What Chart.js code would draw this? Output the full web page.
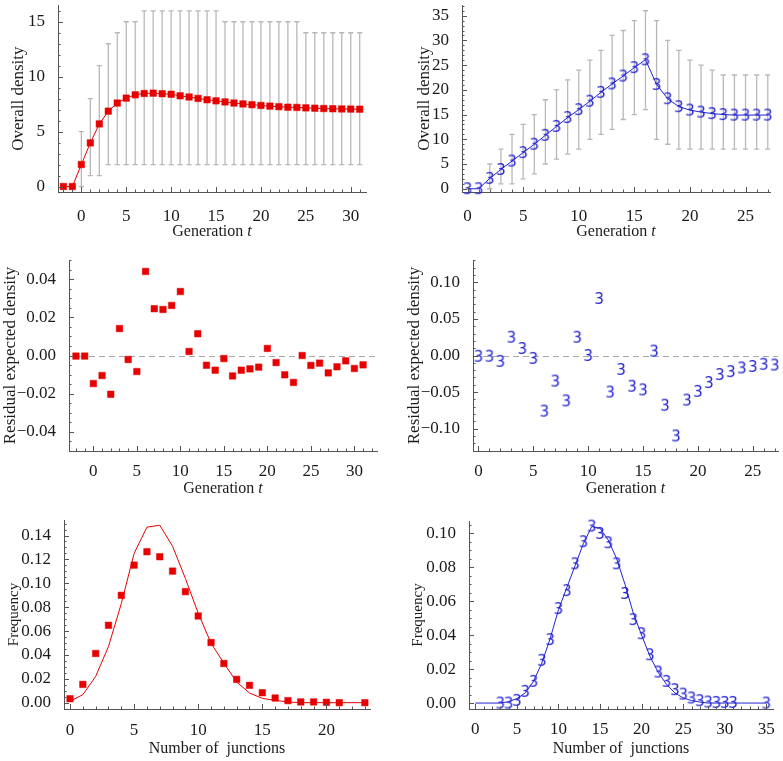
<!DOCTYPE html>
<html>
<head>
<meta charset="utf-8">
<script src="https://cdn.jsdelivr.net/npm/chart.js@4.4.0/dist/chart.umd.min.js"></script>
<style>
  body { margin: 0; background: #fff; width: 783px; height: 761px; position: relative; overflow: hidden; }
  .cell { position: absolute; }
</style>
</head>
<body>
<div class="cell" style="left:0;top:0"><canvas id="c1" width="390" height="250"></canvas></div>
<div class="cell" style="left:390px;top:0"><canvas id="c2" width="393" height="250"></canvas></div>
<div class="cell" style="left:0;top:250px"><canvas id="c3" width="390" height="255"></canvas></div>
<div class="cell" style="left:390px;top:250px"><canvas id="c4" width="393" height="255"></canvas></div>
<div class="cell" style="left:0;top:505px"><canvas id="c5" width="390" height="256"></canvas></div>
<div class="cell" style="left:390px;top:505px"><canvas id="c6" width="393" height="256"></canvas></div>
<script>
// ---- data ----

// top left: red run, generations -2..31
const genRed = [-2,-1,0,1,2,3,4,5,6,7,8,9,10,11,12,13,14,15,16,17,18,19,20,21,22,23,24,25,26,27,28,29,30,31];
const densRed = [0,0,2.0,3.97,5.7,6.86,7.6,8.05,8.35,8.47,8.5,8.45,8.4,8.26,8.15,8.02,7.9,7.8,7.7,7.6,7.52,7.45,7.38,7.32,7.27,7.22,7.2,7.16,7.13,7.1,7.08,7.06,7.05,7.04];
const lowRed = [null,null,0,1,1,2,2,2,2,2,2,2,2,2,2,2,2,2,2,2,2,2,2,2,2,2,2,2,2,2,2,2,2,2];
const highRed = [null,null,5,8,11,13,14,15,15,16,16,16,16,16,16,16,16,16,15,15,15,15,15,15,15,15,15,14,14,14,14,14,14,14];

// top right: blue run, generations 0..27
const genBlue = [0,1,2,3,4,5,6,7,8,9,10,11,12,13,14,15,16,17,18,19,20,21,22,23,24,25,26,27];
const densBlue = [0,0,2.1,3.9,5.6,7.3,9.0,10.8,12.6,14.4,16.0,17.7,19.5,21.2,22.8,24.5,26.1,21.1,18.2,16.6,15.9,15.5,15.2,15.0,14.9,14.9,14.9,14.9];
const lowBlue = [null,null,0,1,1,2,3,5,6,7,8,10,11,12,14,15,16,10,9,8,8,8,8,8,8,8,8,8];
const highBlue = [null,null,5,8,11,13,15,18,20,22,24,26,28,31,32,34,36,34,30,28,26,25,24,23,23,23,23,23];

// middle: residual expected density
const residRed = [-0.0003,-0.0003,-0.0147,-0.0105,-0.0203,0.0141,-0.0021,-0.0084,0.044,0.0245,0.0241,0.0262,0.0335,0.0021,0.0114,-0.0051,-0.0077,-0.0016,-0.0107,-0.0077,-0.007,-0.0061,0.0037,-0.0037,-0.0101,-0.0141,0.0,-0.0052,-0.004,-0.0091,-0.0059,-0.0028,-0.0068,-0.0049];
const residBlue = [-0.001,-0.001,-0.008,0.025,0.0096,-0.004,-0.076,-0.035,-0.062,0.025,0.0,0.078,-0.05,-0.019,-0.042,-0.047,0.006,-0.068,-0.11,-0.061,-0.049,-0.037,-0.026,-0.022,-0.017,-0.015,-0.012,-0.013];

// bottom left: junction frequencies
const juncRedX = [0,1,2,3,4,5,6,7,8,9,10,11,12,13,14,15,16,17,18,19,20,21,23];
const freqRed = [0.0033,0.0153,0.0412,0.0648,0.0899,0.1152,0.1264,0.1222,0.1102,0.093,0.0726,0.0504,0.0328,0.0195,0.0145,0.0083,0.0039,0.0017,0.0006,0.0006,0.0003,0.0,0.0];
const fitRedX = [0,1,2,3,4,5,6,7,8,9,10,11,12,13,14,15,16,17,18,19,20,21,22,23];
const fitRed = [0.0011,0.0067,0.022,0.047,0.083,0.125,0.147,0.1486,0.131,0.104,0.0749,0.0498,0.0331,0.0173,0.0081,0.0036,0.0019,0.0006,0,0,0,0,0,0];

// bottom right
const juncBlueX = [3,4,5,6,7,8,9,10,11,12,13,14,15,16,17,18,19,20,21,22,23,24,25,26,27,28,29,30,31,35];
const freqBlue = [0,0,0.0016,0.0069,0.0128,0.0252,0.0374,0.0557,0.0663,0.0821,0.0951,0.1043,0.1,0.0945,0.0821,0.0646,0.0492,0.0409,0.0285,0.0183,0.0128,0.0079,0.0053,0.003,0.0014,0.0006,0.0004,0.0004,0.0004,0.0];
const fitBlueX = [0,1,2,3,4,5,6,7,8,9,10,11,12,13,14,15,16,17,18,19,20,21,22,23,24,25,26,27,28,29,30,31,32,33,34,35];
const fitBlue = [0,0,0,0,0.0008,0.0026,0.006,0.0128,0.0236,0.038,0.055,0.068,0.081,0.094,0.104,0.103,0.096,0.085,0.07,0.053,0.04,0.0276,0.018,0.011,0.006,0.003,0.0015,0.0006,0,0,0,0,0,0,0,0];

// tick labels
const ticksGenRed = [0,5,10,15,20,25,30];
const ticksGenBlue = [0,5,10,15,20,25];
const ticksDensRed = [0,5,10,15];
const ticksDensBlue = [0,5,10,15,20,25,30,35];
const ticksResidRed = [-0.04,-0.02,0,0.02,0.04];
const ticksResidBlue = [-0.1,-0.05,0,0.05,0.1];
const ticksJuncRed = [0,5,10,15,20];
const ticksJuncBlue = [0,5,10,15,20,25,30,35];
const ticksFreqRed = [0,0.02,0.04,0.06,0.08,0.1,0.12,0.14];
const ticksFreqBlue = [0,0.02,0.04,0.06,0.08,0.1];

// ---- styling ----
const SERIF = '"Liberation Serif", "Times New Roman", serif';
const INK = '#1a1a1a';
const AXIS = '#555555';
const RED = '#e60000';
const BLUE = '#2222d2';
const BAR = '#b8b8b8';

const pts = (xs, ys) => xs.map((x, i) => ({ x: x, y: ys[i] }));
const fixed2 = v => v.toFixed(2).replace('-', '\u2212');
const plain = v => String(v);

// vertical range bars with little caps, broken by null points
function rangeBars(xs, lo, hi) {
  const out = [];
  xs.forEach((x, i) => {
    if (lo[i] == null) return;
    out.push({ x: x, y: lo[i] }, { x: x, y: hi[i] }, { x: x, y: null });
  });
  return {
    data: out, order: 3, borderColor: BAR, borderWidth: 1.3, spanGaps: false,
    pointStyle: 'line', pointRadius: 2.6, pointBorderColor: BAR, pointBorderWidth: 1.3
  };
}

// the "3" marker the blue plots use
function threeMark(size) {
  const c = document.createElement('canvas');
  c.width = Math.ceil(size * 0.75);
  c.height = Math.ceil(size * 0.95);
  const g = c.getContext('2d');
  g.font = size + 'px "DejaVu Sans", sans-serif';
  g.fillStyle = BLUE;
  g.textAlign = 'center';
  g.textBaseline = 'alphabetic';
  g.fillText('3', c.width / 2, c.height / 2 + size * 0.365);
  return c;
}

const squares = (xs, ys, line) => ({
  data: pts(xs, ys), order: 1, showLine: line, borderColor: RED, borderWidth: 1,
  pointStyle: 'rect', pointRadius: 4.6, pointBackgroundColor: RED, pointBorderColor: RED, pointBorderWidth: 0.5, clip: false
});
const threes = (xs, ys, line, size) => ({
  data: pts(xs, ys), order: 1, showLine: line, borderColor: BLUE, borderWidth: 1,
  pointStyle: threeMark(size), clip: false
});
const thinLine = (xs, ys, col) => ({
  data: pts(xs, ys), order: 2, borderColor: col, borderWidth: 1, pointRadius: 0, tension: 0
});

// inward major/minor ticks, dashed zero line, x title with italic parts
const mathFrame = {
  id: 'mathFrame',
  beforeDatasetsDraw(chart, args, o) {
    if (!o.zeroLine) return;
    const { ctx, chartArea: a } = chart;
    const py = Math.round(chart.scales.y.getPixelForValue(0)) + 0.5;
    ctx.save();
    ctx.strokeStyle = '#a8a8a8';
    ctx.lineWidth = 1;
    ctx.setLineDash([6, 4]);
    ctx.beginPath();
    ctx.moveTo(a.left, py);
    ctx.lineTo(a.right, py);
    ctx.stroke();
    ctx.restore();
  },
  afterDraw(chart, args, o) {
    const { ctx, chartArea: a } = chart;
    ctx.save();
    ctx.strokeStyle = AXIS;
    ctx.lineWidth = 1;
    ctx.beginPath();
    const marks = (scale, step, horiz) => {
      const major = scale.ticks.map(t => t.value);
      for (let k = Math.ceil(scale.min / step - 1e-9); k * step <= scale.max + 1e-9; k++) {
        const v = k * step;
        const len = major.some(m => Math.abs(m - v) < step / 10) ? 5 : 2.5;
        const p = Math.round(scale.getPixelForValue(v)) + 0.5;
        if (horiz) { ctx.moveTo(p, a.bottom); ctx.lineTo(p, a.bottom - len); }
        else { ctx.moveTo(a.left, p); ctx.lineTo(a.left + len, p); }
      }
    };
    marks(chart.scales.x, o.xMinor, true);
    marks(chart.scales.y, o.yMinor, false);
    ctx.stroke();

    ctx.fillStyle = INK;
    ctx.textBaseline = 'middle';
    ctx.textAlign = 'left';
    const fontOf = it => (it ? 'italic ' : '') + '16px ' + SERIF;
    let w = 0;
    o.xTitle.forEach(([s, it]) => { ctx.font = fontOf(it); w += ctx.measureText(s).width; });
    let x = (a.left + a.right) / 2 - w / 2;
    o.xTitle.forEach(([s, it]) => { ctx.font = fontOf(it); ctx.fillText(s, x, o.xTitleY); x += ctx.measureText(s).width; });
    ctx.restore();
  }
};

function axis(a, isX) {
  return {
    type: 'linear', min: a.min, max: a.max,
    grid: { display: false },
    border: { display: true, color: AXIS, width: 1 },
    afterBuildTicks: s => { s.ticks = a.ticks.map(v => ({ value: v })); },
    afterFit: s => {
      if (isX) { s.height = a.size; s.paddingLeft = 0; s.paddingRight = 0; }
      else { s.width = a.size; s.paddingTop = 0; s.paddingBottom = 0; }
    },
    ticks: { autoSkip: false, maxRotation: 0, padding: a.pad == null ? 5 : a.pad, color: INK, font: { family: SERIF, size: 17 }, callback: a.fmt },
    title: isX ? { display: false } : {
      display: true, text: a.title, color: INK,
      font: { family: SERIF, size: a.titleSize }, padding: { top: a.titlePad, bottom: 0 }
    }
  };
}

function panel(id, o) {
  return new Chart(document.getElementById(id), {
    type: 'line',
    data: { datasets: o.datasets },
    options: {
      responsive: false, animation: false, events: [],
      layout: { padding: { top: o.top, right: o.right, left: 0, bottom: 0 } },
      plugins: {
        legend: { display: false }, tooltip: { enabled: false },
        mathFrame: { xMinor: o.xMinor, yMinor: o.yMinor, zeroLine: !!o.zeroLine, xTitle: o.xTitle, xTitleY: o.xTitleY }
      },
      scales: { x: axis(o.x, true), y: axis(o.y, false) }
    },
    plugins: [mathFrame]
  });
}

const genTitle = [['Generation ', false], ['t', true]];
const juncTitle = [['Number of  junctions', false]];

panel('c1', {
  top: 2, right: 24, xMinor: 1, yMinor: 1, xTitle: genTitle, xTitleY: 232,
  x: { min: -2.6, max: 31.7, ticks: ticksGenRed, fmt: plain, size: 58, pad: 6 },
  y: { min: -0.5, max: 16.5, ticks: ticksDensRed, fmt: plain, size: 58, title: 'Overall density', titleSize: 17, titlePad: 8 },
  datasets: [rangeBars(genRed, lowRed, highRed), squares(genRed, densRed, true)]
});

panel('c2', {
  top: 2, right: 13, xMinor: 1, yMinor: 1, xTitle: genTitle, xTitleY: 232,
  x: { min: -0.5, max: 27.2, ticks: ticksGenBlue, fmt: plain, size: 58, pad: 6 },
  y: { min: -0.66, max: 37.1, ticks: ticksDensBlue, fmt: plain, size: 72, title: 'Overall density', titleSize: 17, titlePad: 24 },
  datasets: [rangeBars(genBlue, lowBlue, highBlue), threes(genBlue, densBlue, true, 15)]
});

panel('c3', {
  top: 10, right: 13, xMinor: 1, yMinor: 0.005, zeroLine: true, xTitle: genTitle, xTitleY: 239,
  x: { min: -2.8, max: 32.6, ticks: ticksGenRed, fmt: plain, size: 54, pad: 2 },
  y: { min: -0.05, max: 0.05, ticks: ticksResidRed, fmt: fixed2, size: 69, title: 'Residual expected density', titleSize: 17, titlePad: 0 },
  datasets: [squares(genRed, residRed, false)]
});

panel('c4', {
  top: 10, right: 3, xMinor: 1, yMinor: 0.01, zeroLine: true, xTitle: genTitle, xTitleY: 239,
  x: { min: -0.5, max: 27.3, ticks: ticksGenBlue, fmt: plain, size: 54, pad: 2 },
  y: { min: -0.1306, max: 0.1306, ticks: ticksResidBlue, fmt: fixed2, size: 83, title: 'Residual expected density', titleSize: 17, titlePad: 14 },
  datasets: [threes(genBlue, residBlue, false, 15)]
});

panel('c5', {
  top: 15, right: 20, xMinor: 1, yMinor: 0.005, xTitle: juncTitle, xTitleY: 244,
  x: { min: -0.47, max: 23.4, ticks: ticksJuncRed, fmt: plain, size: 52, pad: 3 },
  y: { min: -0.0053, max: 0.153, ticks: ticksFreqRed, fmt: fixed2, size: 64, title: 'Frequency', titleSize: 15, titlePad: 5 },
  datasets: [thinLine(fitRedX, fitRed, RED), squares(juncRedX, freqRed, false)]
});

panel('c6', {
  top: 16, right: 10, xMinor: 1, yMinor: 0.005, xTitle: juncTitle, xTitleY: 244,
  x: { min: -0.76, max: 35.8, ticks: ticksJuncBlue, fmt: plain, size: 52, pad: 2 },
  y: { min: -0.0035, max: 0.1073, ticks: ticksFreqBlue, fmt: fixed2, size: 79, title: 'Frequency', titleSize: 15, titlePad: 19 },
  datasets: [thinLine(fitBlueX, fitBlue, BLUE), threes(juncBlueX, freqBlue, false, 15)]
});
</script>
</body>
</html>
